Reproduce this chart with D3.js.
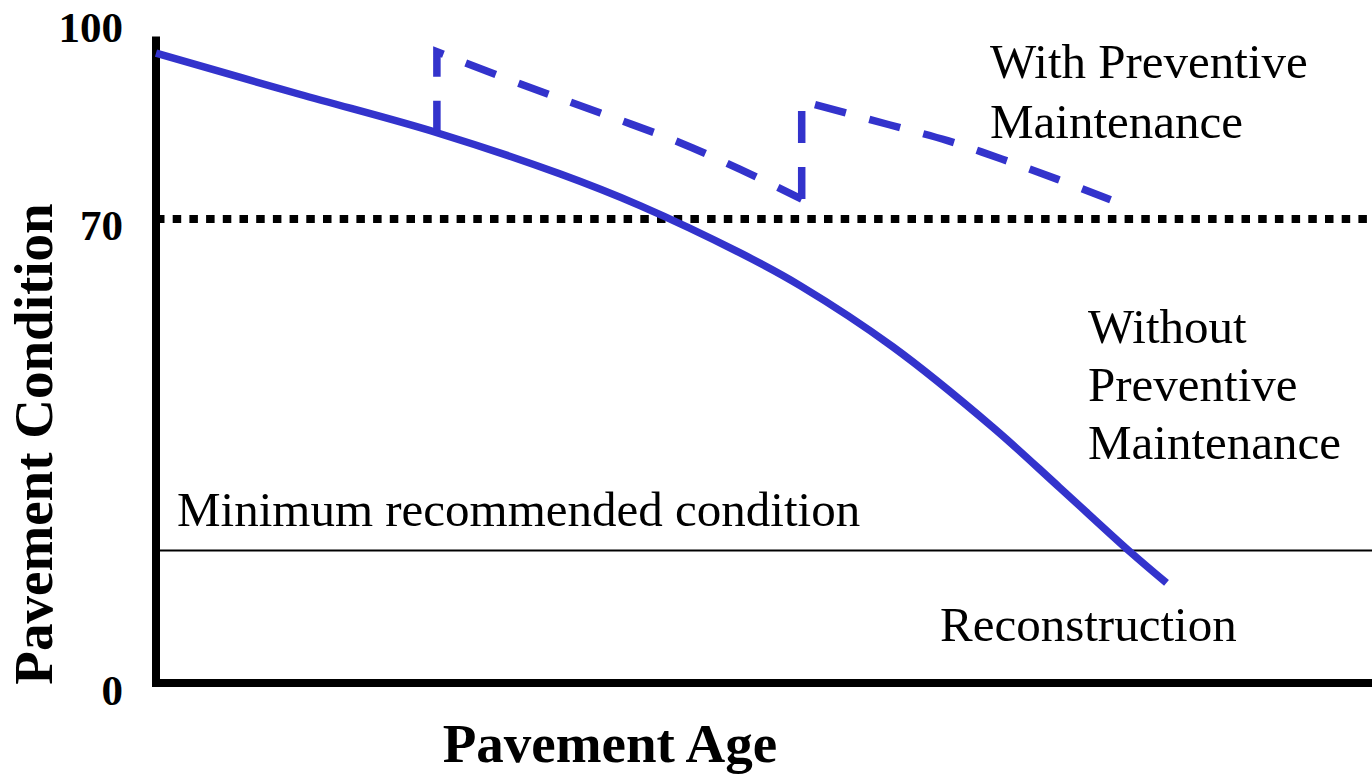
<!DOCTYPE html>
<html>
<head>
<meta charset="utf-8">
<script src="https://cdn.jsdelivr.net/npm/d3@7"></script>
<style>
  html, body { margin: 0; padding: 0; background: #fff; }
  svg { display: block; font-family: "Liberation Serif", "Times New Roman", serif; }
</style>
</head>
<body>
<svg id="chart" width="1372" height="776"></svg>
<script>
// pavement condition vs age, arbitrary age units 0..100
const yTicks = [0, 70, 100];
const targetLevel = 70;
const minLevel = 20;

// without preventive maintenance
const withoutAge  = [0, 11.8, 23.1, 33.2, 39.8, 48.0, 53.0, 60.6, 68.8, 74.3, 80.1, 83.1];
const withoutCond = [95.0, 88.8, 83.0, 76.8, 72.0, 64.9, 59.9, 50.7, 38.6, 29.5, 19.8, 15.1];

// with preventive maintenance, first treatment
const pm1Age  = [23.1, 23.1, 30.2, 36.5, 43.1, 48.0, 53.1];
const pm1Cond = [83.0, 95.2, 90.2, 86.0, 81.5, 77.5, 73.0];

// second treatment
const pm2Age  = [53.1, 53.1, 60.3, 65.1, 69.6, 74.1, 78.5];
const pm2Cond = [73.0, 87.8, 84.2, 81.8, 79.0, 76.0, 72.9];

const blue = "#3333cc";

const svg = d3.select("#chart");
const x = d3.scaleLinear().domain([0, 100]).range([156, 1372]);
const y = d3.scaleLinear().domain([0, 100]).range([683, 20]);

const zip = (a, b) => a.map((v, i) => [v, b[i]]);

// reference lines
svg.append("line")
  .attr("x1", x(0)).attr("x2", x(100))
  .attr("y1", y(targetLevel)).attr("y2", y(targetLevel))
  .attr("stroke", "#000").attr("stroke-width", 8)
  .attr("stroke-dasharray", "8.5,8.2");

svg.append("line")
  .attr("x1", x(0)).attr("x2", x(100))
  .attr("y1", y(minLevel)).attr("y2", y(minLevel))
  .attr("stroke", "#000").attr("stroke-width", 2);

// axes (drawn as plain thick lines)
svg.append("line")
  .attr("x1", x(0)).attr("x2", x(0))
  .attr("y1", y(0) + 4).attr("y2", y(97.5))
  .attr("stroke", "#000").attr("stroke-width", 8);
svg.append("line")
  .attr("x1", x(0) - 4).attr("x2", x(100))
  .attr("y1", y(0)).attr("y2", y(0))
  .attr("stroke", "#000").attr("stroke-width", 8);

const yAxis = svg.append("g")
  .attr("transform", `translate(${x(0)},0)`)
  .call(d3.axisLeft(y).tickValues(yTicks).tickSize(0).tickPadding(33));
yAxis.select(".domain").remove();
yAxis.selectAll("text")
  .attr("dy", 21)
  .attr("font-family", "Liberation Serif, serif")
  .attr("font-size", 43)
  .attr("font-weight", "bold")
  .attr("fill", "#000");

// curves
const smooth = d3.line().x(d => x(d[0])).y(d => y(d[1])).curve(d3.curveCatmullRom);
const straight = d3.line().x(d => x(d[0])).y(d => y(d[1]));

svg.append("path")
  .datum(zip(withoutAge, withoutCond))
  .attr("d", smooth)
  .attr("fill", "none").attr("stroke", blue).attr("stroke-width", 7.5);

[zip(pm1Age, pm1Cond), zip(pm2Age, pm2Cond)].forEach(pts => {
  // vertical jump drawn straight, decay part smoothed
  const d = straight(pts.slice(0, 2)) + smooth(pts.slice(1)).replace(/^M/, "L");
  svg.append("path")
    .attr("d", d)
    .attr("fill", "none").attr("stroke", blue).attr("stroke-width", 7.5)
    .attr("stroke-dasharray", "32,24");
});

// annotations
function label(lines, px, py, lh, size, weight) {
  const t = svg.append("text")
    .attr("x", px).attr("y", py)
    .attr("font-size", size).attr("font-weight", weight || "normal")
    .attr("fill", "#000");
  lines.forEach((s, i) => {
    t.append("tspan").attr("x", px).attr("y", py + i * lh).text(s);
  });
}
label(["With Preventive", "Maintenance"], 990, 78, 60, 49);
label(["Without", "Preventive", "Maintenance"], 1088, 343, 58, 49);
label(["Minimum recommended condition"], 177, 526, 0, 49);
label(["Reconstruction"], 940, 641, 0, 49);

svg.append("text")
  .attr("x", 610).attr("y", 762)
  .attr("text-anchor", "middle")
  .attr("font-size", 55).attr("font-weight", "bold")
  .text("Pavement Age");

svg.append("text")
  .attr("transform", "translate(52,444) rotate(-90)")
  .attr("text-anchor", "middle")
  .attr("font-size", 55).attr("font-weight", "bold")
  .text("Pavement Condition");
</script>
</body>
</html>
